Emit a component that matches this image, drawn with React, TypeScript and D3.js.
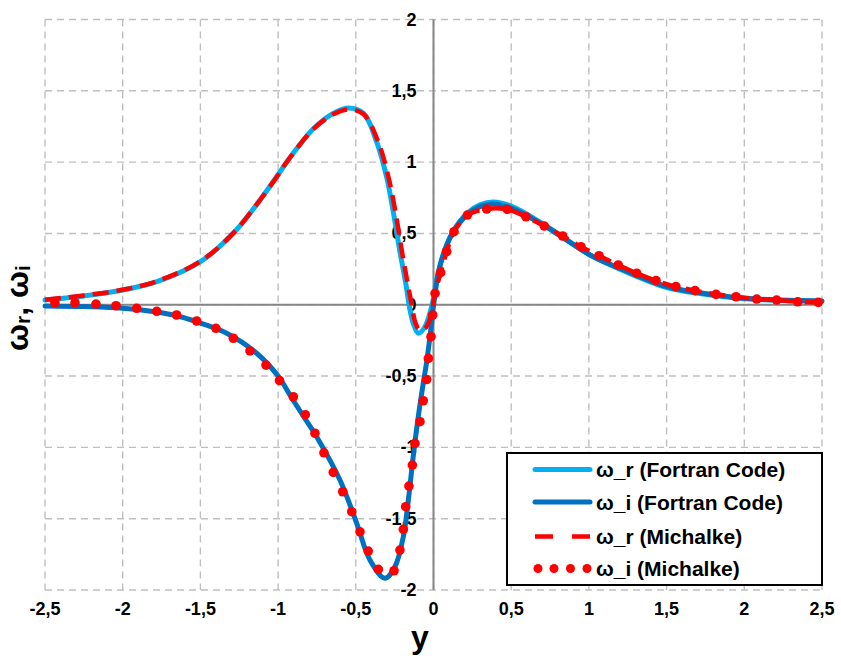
import React from "react";
import * as d3 from "d3";

const W = 841;
const H = 659;

// Axis ticks
const xTicks = [-2.5, -2, -1.5, -1, -0.5, 0, 0.5, 1, 1.5, 2, 2.5];
const yTicks = [2, 1.5, 1, 0.5, 0, -0.5, -1, -1.5, -2];

// ω_r from the Fortran code
const wrFortranX = [-2.5, -2.25, -2.0, -1.78, -1.5, -1.29, -1.14, -1.0, -0.945, -0.77, -0.645, -0.55, -0.45, -0.366, -0.3, -0.259, -0.216, -0.18, -0.151, -0.13, -0.098, -0.055, -0.012, 0.031, 0.074, 0.128, 0.214, 0.299, 0.385, 0.503, 0.707, 1.007, 1.2, 1.504, 1.736, 2.004, 2.5];
const wrFortranY = [0.033, 0.062, 0.103, 0.162, 0.302, 0.5, 0.7, 0.912, 1.0, 1.237, 1.342, 1.38, 1.342, 1.143, 0.887, 0.653, 0.372, 0.16, -0.037, -0.13, -0.2, -0.154, -0.014, 0.23, 0.39, 0.52, 0.64, 0.7, 0.72, 0.69, 0.565, 0.35, 0.25, 0.12, 0.075, 0.042, 0.024];

// ω_i from the Fortran code
const wiFortranX = [-2.5, -2.0, -1.674, -1.496, -1.331, -1.138, -1.0, -0.92, -0.838, -0.752, -0.602, -0.494, -0.409, -0.312, -0.248, -0.194, -0.162, -0.13, -0.098, -0.066, -0.044, -0.02, 0.0, 0.031, 0.074, 0.128, 0.214, 0.299, 0.385, 0.503, 0.707, 1.007, 1.2, 1.504, 1.736, 2.004, 2.5];
const wiFortranY = [-0.009, -0.025, -0.072, -0.13, -0.2, -0.34, -0.5, -0.64, -0.78, -0.925, -1.229, -1.533, -1.79, -1.918, -1.837, -1.626, -1.37, -1.06, -0.785, -0.551, -0.4, -0.2, -0.01, 0.221, 0.384, 0.512, 0.629, 0.688, 0.707, 0.676, 0.559, 0.349, 0.255, 0.127, 0.08, 0.045, 0.026];

// ω_r after Michalke
const wrMichalkeX = [-2.5, -2.25, -2.0, -1.78, -1.5, -1.29, -1.14, -1.0, -0.945, -0.77, -0.645, -0.55, -0.45, -0.355, -0.288, -0.245, -0.203, -0.168, -0.14, -0.115, -0.087, -0.05, -0.02, 0.01, 0.046, 0.085, 0.132, 0.218, 0.342, 0.475, 0.595, 0.713, 0.831, 0.949, 1.065, 1.189, 1.308, 1.432, 1.56, 1.683, 1.818, 1.947, 2.08, 2.208, 2.344, 2.5];
const wrMichalkeY = [0.035, 0.065, 0.105, 0.165, 0.305, 0.5, 0.7, 0.91, 1.0, 1.235, 1.335, 1.37, 1.335, 1.14, 0.887, 0.653, 0.372, 0.16, 0.0, -0.13, -0.178, -0.16, -0.09, 0.08, 0.225, 0.372, 0.512, 0.629, 0.671, 0.669, 0.617, 0.552, 0.482, 0.407, 0.344, 0.279, 0.221, 0.169, 0.127, 0.099, 0.073, 0.056, 0.04, 0.033, 0.021, 0.015];

// ω_i after Michalke (markers)
const wiMichalkeX = [-2.436, -2.307, -2.172, -2.043, -1.91, -1.781, -1.653, -1.524, -1.4, -1.288, -1.181, -1.078, -0.991, -0.902, -0.825, -0.763, -0.705, -0.645, -0.584, -0.526, -0.473, -0.42, -0.355, -0.254, -0.216, -0.194, -0.179, -0.158, -0.136, -0.119, -0.087, -0.066, -0.044, -0.033, -0.016, -0.005, 0.01, 0.046, 0.085, 0.132, 0.218, 0.342, 0.475, 0.595, 0.713, 0.831, 0.949, 1.065, 1.189, 1.308, 1.432, 1.56, 1.683, 1.818, 1.947, 2.08, 2.208, 2.344, 2.476];
const wiMichalkeY = [0.014, 0.014, 0.005, -0.007, -0.025, -0.046, -0.072, -0.114, -0.165, -0.235, -0.324, -0.423, -0.531, -0.645, -0.771, -0.901, -1.038, -1.175, -1.311, -1.451, -1.592, -1.727, -1.855, -1.865, -1.72, -1.575, -1.416, -1.271, -1.124, -0.972, -0.82, -0.673, -0.524, -0.376, -0.224, -0.072, 0.08, 0.225, 0.372, 0.512, 0.629, 0.671, 0.669, 0.617, 0.552, 0.482, 0.407, 0.344, 0.279, 0.221, 0.169, 0.127, 0.099, 0.073, 0.056, 0.04, 0.033, 0.021, 0.017];

const legendLabels = ["ω_r (Fortran Code)", "ω_i (Fortran Code)", "ω_r (Michalke)", "ω_i (Michalke)"];

const C_LIGHT = "#00B0F0";
const C_DARK = "#0070C0";
const C_RED = "#FF0000";
const FONT = "'Liberation Sans', Arial, sans-serif";

const plot = { left: 45, right: 822, top: 19.5, bottom: 590 };

const x = d3.scaleLinear().domain([-2.5, 2.5]).range([plot.left, plot.right]);
const y = d3.scaleLinear().domain([-2, 2]).range([plot.bottom, plot.top]);

const zip = (xs: number[], ys: number[]) => xs.map((v, i) => [v, ys[i]] as [number, number]);

const line = d3
  .line<[number, number]>()
  .x((d) => x(d[0]))
  .y((d) => y(d[1]))
  .curve(d3.curveCatmullRom.alpha(0.5));

const fmt = (v: number) => String(v).replace(".", ",");

export default function App() {
  const legendRows = [469.5, 502, 536.5, 568.5];
  const lx0 = 535;
  const lx1 = 590;
  return (
    <svg
      width={W}
      height={H}
      style={{ position: "absolute", left: 0, top: 0, background: "#fff" }}
      fontFamily={FONT}
    >
      <rect x={0} y={0} width={W} height={H} fill="#fff" />
      {/* grid */}
      <g stroke="#BFBFBF" strokeWidth={1.4} strokeDasharray="7 5" fill="none">
        {xTicks.map((t) => (
          <line key={"gx" + t} x1={x(t)} x2={x(t)} y1={plot.top} y2={plot.bottom} />
        ))}
        {yTicks.map((t) => (
          <line key={"gy" + t} x1={plot.left} x2={plot.right} y1={y(t)} y2={y(t)} />
        ))}
      </g>
      {/* axes through origin */}
      <line x1={plot.left} x2={plot.right} y1={y(0)} y2={y(0)} stroke="#868686" strokeWidth={2} />
      <line x1={x(0)} x2={x(0)} y1={plot.top} y2={plot.bottom} stroke="#868686" strokeWidth={2} />

      {/* y tick labels next to the vertical axis */}
      <g fontSize={18} fontWeight="bold" fill="#000" textAnchor="end">
        {yTicks.map((t) => (
          <text key={"ly" + t} x={x(0) - 17} y={y(t)} dominantBaseline="central">
            {fmt(t)}
          </text>
        ))}
      </g>
      {/* x tick labels */}
      <g fontSize={18} fontWeight="bold" fill="#000" textAnchor="middle">
        {xTicks.map((t) => (
          <text key={"lx" + t} x={x(t)} y={615}>
            {fmt(t)}
          </text>
        ))}
      </g>

      {/* series */}
      <path d={line(zip(wrFortranX, wrFortranY)) || ""} fill="none" stroke={C_LIGHT} strokeWidth={5} strokeLinejoin="round" strokeLinecap="round" />
      <path d={line(zip(wiFortranX, wiFortranY)) || ""} fill="none" stroke={C_DARK} strokeWidth={5} strokeLinejoin="round" strokeLinecap="round" />
      <path d={line(zip(wrMichalkeX, wrMichalkeY)) || ""} fill="none" stroke={C_RED} strokeWidth={4.5} strokeDasharray="16 8" strokeLinejoin="round" />
      <g fill={C_RED}>
        {zip(wiMichalkeX, wiMichalkeY).map((d, i) => (
          <circle key={"m" + i} cx={x(d[0])} cy={y(d[1])} r={4.8} />
        ))}
      </g>

      {/* axis titles */}
      <text x={420} y={648} fontSize={32} fontWeight="bold" textAnchor="middle">
        y
      </text>
      <text transform={`translate(28,308) rotate(-90)`} fontSize={32} fontWeight="bold" textAnchor="middle">
        <tspan>ω</tspan>
        <tspan fontSize={21} dy={2}>r</tspan>
        <tspan dy={-2}>, ω</tspan>
        <tspan fontSize={21} dy={2}>i</tspan>
      </text>

      {/* legend */}
      <rect x={507} y={453} width={315} height={132} fill="#fff" stroke="#000" strokeWidth={2} />
      <line x1={lx0} x2={lx1} y1={legendRows[0]} y2={legendRows[0]} stroke={C_LIGHT} strokeWidth={5} strokeLinecap="round" />
      <line x1={lx0} x2={lx1} y1={legendRows[1]} y2={legendRows[1]} stroke={C_DARK} strokeWidth={5} strokeLinecap="round" />
      <line x1={lx0} x2={lx1} y1={legendRows[2]} y2={legendRows[2]} stroke={C_RED} strokeWidth={4.5} strokeDasharray="18 19" />
      {[538, 554, 570.5, 587].map((cx) => (
        <circle key={"ld" + cx} cx={cx} cy={legendRows[3]} r={4.5} fill={C_RED} />
      ))}
      <g fontSize={21} fontWeight="bold" fill="#000">
        {legendLabels.map((s, i) => (
          <text key={s} x={596} y={legendRows[i]} dominantBaseline="central">
            {s}
          </text>
        ))}
      </g>
    </svg>
  );
}
